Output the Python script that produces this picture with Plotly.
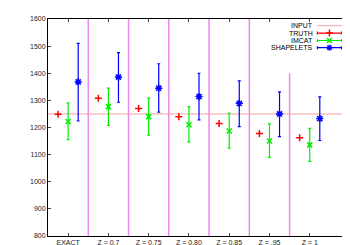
import plotly.graph_objects as go

categories = ["EXACT", "Z = 0.7", "Z = 0.75", "Z = 0.80", "Z = 0.85", "Z = .95", "Z = 1"]
input_value = 1250
truth = [1249, 1308, 1270, 1240, 1215, 1178, 1162]
imcat = [1222, 1277, 1240, 1210, 1187, 1150, 1136]
imcat_hi = [1291, 1345, 1308, 1277, 1253, 1213, 1197]
imcat_lo = [1155, 1208, 1172, 1147, 1124, 1090, 1075]
shape = [1368, 1386, 1345, 1314, 1289, 1250, 1233]
shape_hi = [1510, 1476, 1435, 1400, 1372, 1331, 1313]
shape_lo = [1224, 1293, 1257, 1228, 1203, 1166, 1152]
separators = [0.5, 1.5, 2.5, 3.5, 4.5, 5.5]
separator_tops = [1600, 1600, 1600, 1600, 1600, 1400]

idx = list(range(len(categories)))
off = 0.25

fig = go.Figure()
fig.add_trace(go.Scatter(x=[-0.5, 7.0], y=[input_value, input_value], mode="lines",
                         line=dict(color="#f4a0a0", width=1), showlegend=False))
fig.add_trace(go.Scatter(x=[i - off for i in idx], y=truth, mode="markers",
                         marker=dict(symbol="cross-thin-open", size=5, color="red",
                                     line=dict(color="red", width=1.5)), showlegend=False))
fig.add_trace(go.Scatter(x=idx, y=imcat, mode="markers",
                         marker=dict(symbol="x-thin-open", size=5, color="#00ee00",
                                     line=dict(color="#00ee00", width=1.5)),
                         error_y=dict(type="data", symmetric=False,
                                      array=[h - v for h, v in zip(imcat_hi, imcat)],
                                      arrayminus=[v - l for v, l in zip(imcat, imcat_lo)],
                                      color="#00ee00", thickness=1.2, width=1.5),
                         showlegend=False))
fig.add_trace(go.Scatter(x=[i + off for i in idx], y=shape, mode="markers",
                         marker=dict(symbol="asterisk-open", size=6, color="blue",
                                     line=dict(color="blue", width=1.5)),
                         error_y=dict(type="data", symmetric=False,
                                      array=[h - v for h, v in zip(shape_hi, shape)],
                                      arrayminus=[v - l for v, l in zip(shape, shape_lo)],
                                      color="blue", thickness=1.2, width=1.5),
                         showlegend=False))

for xs, top in zip(separators, separator_tops):
    fig.add_shape(type="line", x0=xs, x1=xs, y0=800, y1=top, xref="x", yref="y",
                  line=dict(color="#ee88ee", width=1.5), layer="below")

# custom gnuplot-style legend (text right, sample after)
leg_names = ["INPUT", "TRUTH", "IMCAT", "SHAPELETS"]
leg_colors = ["#f4a0a0", "red", "#00ee00", "blue"]
leg_symbols = [None, "cross-thin-open", "x-thin-open", "asterisk-open"]
leg_y = [0.969, 0.935, 0.901, 0.868]
sx, hw = 0.932, 0.04
for name, col, sym, yy in zip(leg_names, leg_colors, leg_symbols, leg_y):
    fig.add_annotation(x=0.885, y=yy, xref="paper", yref="paper", text=name,
                       showarrow=False, xanchor="right", yanchor="middle",
                       font=dict(size=7, color="black"))
    if sym is None:
        fig.add_trace(go.Scatter(x=[sx - hw, sx + hw], y=[yy, yy], mode="lines",
                                 line=dict(color=col, width=1), xaxis="x2", yaxis="y2",
                                 showlegend=False, hoverinfo="skip"))
    else:
        fig.add_trace(go.Scatter(x=[sx], y=[yy], mode="markers",
                                 marker=dict(symbol=sym, size=5, color=col,
                                             line=dict(color=col, width=1.5)),
                                 error_x=dict(type="constant", value=hw, color=col,
                                              thickness=1.2, width=1.5),
                                 xaxis="x2", yaxis="y2", showlegend=False, hoverinfo="skip"))

fig.update_layout(
    width=350, height=245,
    margin=dict(l=40, r=7, t=8, b=14),
    paper_bgcolor="white", plot_bgcolor="white",
    font=dict(family="Liberation Sans, Arial, sans-serif", size=7, color="#222222"),
    xaxis=dict(range=[-0.5, 7.0], tickvals=idx, ticktext=categories, ticks="inside",
               ticklen=3, showline=True, linecolor="black", linewidth=1, mirror="allticks",
               showgrid=False, zeroline=False, tickfont=dict(size=7)),
    yaxis=dict(range=[800, 1600], tickvals=list(range(800, 1601, 100)), ticks="inside",
               ticklen=3, showline=True, linecolor="black", linewidth=1, mirror="allticks",
               showgrid=False, zeroline=False, tickfont=dict(size=7)),
    xaxis2=dict(range=[0, 1], overlaying="x", visible=False),
    yaxis2=dict(range=[0, 1], overlaying="y", visible=False),
    showlegend=False,
)

fig.write_html("out.html")
